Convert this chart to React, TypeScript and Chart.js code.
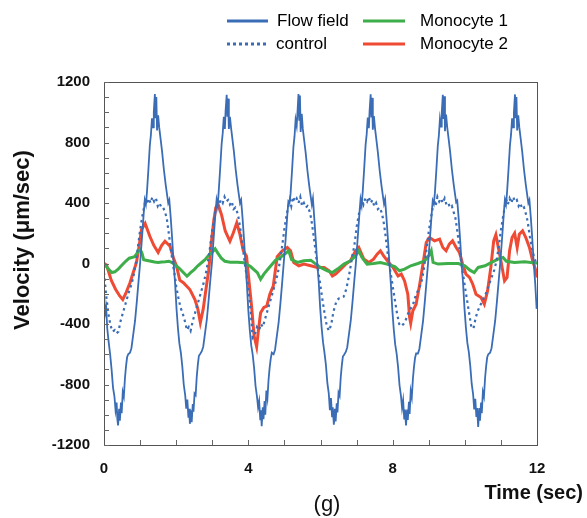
import React, { useEffect, useRef } from 'react';
import { Chart, registerables } from 'chart.js';

Chart.register(...registerables);

const FONT = '"Liberation Sans", Arial, Helvetica, sans-serif';

// Time axis (sec) tick labels and velocity ticks
const xTickValues = [0, 4, 8, 12];
const yTickValues = [-1200, -800, -400, 0, 400, 800, 1200];

// Flow field (solid blue)
const flowTime = [
  0, 0.03, 0.06, 0.09, 0.13, 0.17, 0.21, 0.25, 0.29, 0.32, 0.35, 0.37,
  0.39, 0.42, 0.44, 0.47, 0.49, 0.52, 0.55, 0.58, 0.61, 0.64,
  0.67, 0.72, 0.76, 0.81, 0.86, 0.91, 0.96, 1.0, 1.05, 1.1,
  1.13, 1.16, 1.19, 1.23, 1.27, 1.3, 1.33, 1.36, 1.38, 1.41,
  1.43, 1.45, 1.47, 1.5, 1.53, 1.57, 1.61, 1.66, 1.71, 1.75,
  1.78, 1.81, 1.85, 1.89, 1.93, 1.97, 2.01, 2.05, 2.09, 2.13,
  2.17, 2.21, 2.25, 2.28, 2.31, 2.34, 2.36,
  2.38, 2.41, 2.43, 2.46, 2.48, 2.51, 2.54, 2.57, 2.6, 2.63,
  2.66, 2.71, 2.75, 2.8, 2.85, 2.9, 2.95, 2.99, 3.04, 3.09,
  3.12, 3.15, 3.18, 3.22, 3.26, 3.29, 3.32, 3.35, 3.37, 3.4,
  3.42, 3.44, 3.46, 3.49, 3.52, 3.56, 3.6, 3.65, 3.7, 3.74,
  3.77, 3.8, 3.84, 3.88, 3.92, 3.96, 4.0, 4.04, 4.08, 4.12,
  4.16, 4.2, 4.24, 4.27, 4.3, 4.33, 4.35,
  4.37, 4.4, 4.42, 4.45, 4.47, 4.5, 4.53, 4.56, 4.59, 4.62,
  4.65, 4.7, 4.74, 4.79, 4.84, 4.89, 4.94, 4.98, 5.03, 5.08,
  5.11, 5.14, 5.17, 5.21, 5.25, 5.28, 5.31, 5.34, 5.36, 5.39,
  5.41, 5.43, 5.45, 5.48, 5.51, 5.55, 5.59, 5.64, 5.69, 5.73,
  5.76, 5.79, 5.83, 5.87, 5.91, 5.95, 5.99, 6.03, 6.07, 6.11,
  6.15, 6.19, 6.23, 6.26, 6.29, 6.32, 6.34,
  6.37, 6.4, 6.42, 6.45, 6.47, 6.5, 6.53, 6.56, 6.59, 6.62,
  6.65, 6.7, 6.74, 6.79, 6.84, 6.89, 6.94, 6.98, 7.03, 7.08,
  7.11, 7.14, 7.17, 7.21, 7.25, 7.28, 7.31, 7.34, 7.36, 7.39,
  7.41, 7.43, 7.45, 7.48, 7.51, 7.55, 7.59, 7.64, 7.69, 7.73,
  7.76, 7.79, 7.83, 7.87, 7.91, 7.95, 7.99, 8.03, 8.07, 8.11,
  8.15, 8.19, 8.23, 8.26, 8.29, 8.32, 8.34,
  8.37, 8.4, 8.42, 8.45, 8.47, 8.5, 8.53, 8.56, 8.59, 8.62,
  8.65, 8.7, 8.74, 8.79, 8.84, 8.89, 8.94, 8.98, 9.03, 9.08,
  9.11, 9.14, 9.17, 9.21, 9.25, 9.28, 9.31, 9.34, 9.36, 9.39,
  9.41, 9.43, 9.45, 9.48, 9.51, 9.55, 9.59, 9.64, 9.69, 9.73,
  9.76, 9.79, 9.83, 9.87, 9.91, 9.95, 9.99, 10.03, 10.07, 10.11,
  10.15, 10.19, 10.23, 10.26, 10.29, 10.32, 10.34,
  10.37, 10.4, 10.42, 10.45, 10.47, 10.5, 10.53, 10.56, 10.59, 10.62,
  10.65, 10.7, 10.74, 10.79, 10.84, 10.89, 10.94, 10.98, 11.03, 11.08,
  11.11, 11.14, 11.17, 11.21, 11.25, 11.28, 11.31, 11.34, 11.36, 11.39,
  11.41, 11.43, 11.45, 11.48, 11.51, 11.55, 11.59, 11.64, 11.69, 11.73,
  11.76, 11.79, 11.83, 11.87, 11.91, 11.95, 11.99,
];
const flowVel = [
  -170, -330, -290, -430, -520, -600, -700, -820, -880, -970, -920, -1030,
  -1070, -960, -1040, -920, -990, -850, -880, -760, -680, -620,
  -600, -590, -560, -470, -380, -250, -110, 0, 160, 330,
  420, 390, 470, 620, 780, 850, 960, 900, 1000, 1120,
  960, 1100, 880, 980, 900, 820, 740, 620, 520, 450,
  400, 420, 300, 160, 0, -130, -300, -430, -530, -590,
  -680, -800, -870, -960, -900, -1020, -960,
  -1060, -970, -1050, -930, -980, -860, -870, -750, -670, -610,
  -600, -580, -550, -460, -370, -240, -100, 0, 170, 340,
  420, 380, 480, 630, 790, 860, 970, 890, 1010, 1115,
  970, 1090, 890, 970, 900, 820, 740, 620, 520, 450,
  400, 420, 300, 160, 0, -140, -310, -440, -540, -600,
  -690, -810, -880, -950, -910, -1030, -970,
  -1075, -950, -1030, -910, -1000, -840, -890, -770, -690, -630,
  -590, -600, -570, -480, -390, -260, -120, 0, 150, 320,
  410, 400, 460, 610, 770, 840, 950, 910, 990, 1120,
  950, 1110, 870, 990, 890, 810, 730, 610, 510, 440,
  390, 430, 290, 150, 0, -120, -290, -420, -520, -590,
  -670, -790, -860, -970, -890, -1010, -950,
  -1065, -960, -1045, -925, -985, -855, -875, -755, -675, -615,
  -605, -585, -555, -465, -375, -245, -105, 0, 165, 335,
  425, 385, 475, 625, 785, 855, 965, 895, 1005, 1118,
  965, 1095, 885, 975, 895, 815, 735, 615, 515, 445,
  395, 425, 295, 155, 0, -135, -305, -435, -535, -595,
  -685, -805, -875, -955, -905, -1025, -965,
  -1070, -965, -1035, -915, -995, -845, -885, -765, -685, -625,
  -595, -595, -565, -475, -385, -255, -115, 0, 155, 325,
  415, 395, 465, 615, 775, 845, 955, 905, 995, 1115,
  955, 1105, 875, 985, 905, 825, 745, 625, 525, 455,
  405, 415, 295, 155, 0, -125, -295, -425, -525, -585,
  -675, -795, -865, -965, -895, -1015, -955,
  -1080, -955, -1040, -920, -990, -850, -880, -760, -680, -620,
  -600, -590, -560, -470, -380, -250, -110, 0, 160, 330,
  420, 390, 470, 620, 780, 850, 960, 900, 1000, 1118,
  960, 1100, 880, 980, 900, 820, 740, 620, 520, 450,
  400, 420, 300, 160, 0, -130, -300,
];

// Control (dotted blue)
const controlTime = [
  0, 0.06, 0.12, 0.18, 0.24, 0.3, 0.35, 0.4, 0.46, 0.52,
  0.58, 0.64, 0.7, 0.76, 0.82, 0.88, 0.94, 1.0, 1.06, 1.11,
  1.15, 1.19, 1.24, 1.29, 1.34, 1.39, 1.44, 1.49, 1.54, 1.59,
  1.64, 1.69, 1.74, 1.8, 1.86, 1.92, 1.97,
  2, 2.06, 2.12, 2.18, 2.24, 2.3, 2.35, 2.4, 2.46, 2.52,
  2.58, 2.64, 2.7, 2.76, 2.82, 2.88, 2.94, 3.0, 3.06, 3.11,
  3.15, 3.19, 3.24, 3.29, 3.34, 3.39, 3.44, 3.49, 3.54, 3.59,
  3.64, 3.69, 3.74, 3.8, 3.86, 3.92, 3.97,
  4, 4.06, 4.12, 4.18, 4.24, 4.3, 4.35, 4.4, 4.46, 4.52,
  4.58, 4.64, 4.7, 4.76, 4.82, 4.88, 4.94, 5.0, 5.06, 5.11,
  5.15, 5.19, 5.24, 5.29, 5.34, 5.39, 5.44, 5.49, 5.54, 5.59,
  5.64, 5.69, 5.74, 5.8, 5.86, 5.92, 5.97,
  6, 6.06, 6.12, 6.18, 6.24, 6.3, 6.35, 6.4, 6.46, 6.52,
  6.58, 6.64, 6.7, 6.76, 6.82, 6.88, 6.94, 7.0, 7.06, 7.11,
  7.15, 7.19, 7.24, 7.29, 7.34, 7.39, 7.44, 7.49, 7.54, 7.59,
  7.64, 7.69, 7.74, 7.8, 7.86, 7.92, 7.97,
  8, 8.06, 8.12, 8.18, 8.24, 8.3, 8.35, 8.4, 8.46, 8.52,
  8.58, 8.64, 8.7, 8.76, 8.82, 8.88, 8.94, 9.0, 9.06, 9.11,
  9.15, 9.19, 9.24, 9.29, 9.34, 9.39, 9.44, 9.49, 9.54, 9.59,
  9.64, 9.69, 9.74, 9.8, 9.86, 9.92, 9.97,
  10, 10.06, 10.12, 10.18, 10.24, 10.3, 10.35, 10.4, 10.46, 10.52,
  10.58, 10.64, 10.7, 10.76, 10.82, 10.88, 10.94, 11.0, 11.06, 11.11,
  11.15, 11.19, 11.24, 11.29, 11.34, 11.39, 11.44, 11.49, 11.54, 11.59,
  11.64, 11.69, 11.74, 11.8, 11.86, 11.92, 11.97, 12,
];
const controlVel = [
  -60, -210, -330, -410, -450, -440, -460, -450, -380, -330,
  -280, -230, -180, -140, -80, 0, 110, 220, 310, 370,
  420, 390, 430, 400, 440, 410, 430, 380, 400, 370,
  370, 340, 300, 190, 80, -20, -90,
  -150, -225, -290, -330, -380, -440, -420, -445, -380, -330,
  -280, -230, -180, -130, -70, 10, 110, 220, 310, 380,
  430, 390, 420, 400, 440, 410, 420, 390, 410, 360,
  370, 340, 290, 190, 80, -30, -110,
  -170, -300, -490, -470, -420, -440, -400, -420, -370, -320,
  -270, -220, -170, -120, -60, 20, 120, 230, 320, 380,
  420, 380, 440, 410, 430, 400, 440, 380, 400, 370,
  380, 350, 300, 200, 90, -30, -100,
  -150, -250, -340, -420, -445, -400, -330, -280, -240, -230,
  -228, -220, -180, -120, -40, 50, 120, 240, 320, 380,
  420, 390, 430, 410, 440, 400, 420, 380, 400, 360,
  370, 340, 290, 190, 70, -30, -100,
  -150, -240, -330, -400, -415, -400, -380, -350, -310, -290,
  -260, -210, -180, -150, -100, -10, 100, 210, 300, 370,
  420, 380, 440, 410, 430, 400, 430, 390, 400, 370,
  380, 340, 300, 200, 80, -30, -100,
  -150, -240, -330, -420, -430, -360, -320, -290, -260, -230,
  -200, -160, -120, -80, -40, 20, 110, 220, 310, 380,
  420, 390, 430, 400, 440, 410, 420, 380, 400, 360,
  370, 330, 280, 180, 100, 40, 10, 0,
];

// Monocyte 1 (green)
const mono1Time = [
  0, 0.1, 0.21, 0.3, 0.4, 0.5, 0.6, 0.7, 0.85, 0.95, 1.0, 1.05, 1.1, 1.2, 1.3, 1.4, 1.5,
  1.6, 1.7, 1.8, 1.9, 2.0, 2.1, 2.2, 2.3, 2.4, 2.5, 2.6, 2.7, 2.8, 2.9, 3.0, 3.08,
  3.15, 3.25, 3.35, 3.5, 3.7, 3.88, 4.06, 4.25, 4.34, 4.43, 4.57, 4.75, 4.94, 5.12,
  5.2, 5.36, 5.54, 5.73, 5.87, 6.0, 6.19, 6.33, 6.47, 6.65, 6.83, 6.97, 7.06, 7.15,
  7.29, 7.47, 7.66, 7.84, 8.06, 8.19, 8.33, 8.5, 8.7, 8.89, 9.03, 9.07, 9.12, 9.26,
  9.54, 9.82, 10.0, 10.14, 10.26, 10.37, 10.56, 10.74, 10.92, 11.06, 11.15, 11.38,
  11.66, 11.94, 12.0,
];
const mono1Vel = [
  0, -30, -60, -55, -35, -10, 15, 35, 45, 80, 92, 70, 25, 20, 15, 10, 7,
  10, 12, 15, 5, -15, -35, -60, -84, -60, -40, -15, 5, 25, 55, 75, 97,
  70, 35, 15, 8, 8, 5, -20, -60, -104, -70, -30, 20, 50, 84,
  25, 7, 18, 22, -4, -26, -48, -60, -37, -4, 18, 50, 84, 40,
  -4, 0, 7, -4, -20, -48, -37, -15, 0, 18, 62, 84, 7, -4,
  0, 0, -15, -44, -60, -26, -15, 7, 29, 40, 15, 7,
  11, 4, 4,
];

// Monocyte 2 (red)
const mono2Time = [
  0, 0.07, 0.2, 0.32, 0.44, 0.52, 0.6, 0.72, 0.81, 0.9, 0.97, 1.04, 1.14, 1.27, 1.38,
  1.5, 1.6, 1.69, 1.83, 1.92, 2.01, 2.1, 2.2, 2.38, 2.52, 2.6, 2.67, 2.75, 2.82, 2.9,
  2.97, 3.04, 3.1, 3.17, 3.26, 3.36, 3.49, 3.58, 3.68, 3.76, 3.86, 3.95, 4.02, 4.09,
  4.16, 4.23, 4.28, 4.34, 4.43, 4.51, 4.6, 4.69, 4.8, 4.94, 5.08, 5.17, 5.26, 5.4,
  5.54, 5.73, 5.91, 6.1, 6.24, 6.33, 6.42, 6.56, 6.7, 6.83, 6.97, 7.06, 7.2, 7.34,
  7.47, 7.57, 7.66, 7.75, 7.89, 8.01, 8.15, 8.24, 8.33, 8.42, 8.47, 8.5, 8.56, 8.65,
  8.75, 8.84, 8.93, 9.02, 9.16, 9.3, 9.39, 9.48, 9.57, 9.66, 9.76, 9.85, 9.94, 10.03,
  10.13, 10.22, 10.31, 10.45, 10.54, 10.63, 10.72, 10.8, 10.86, 10.91, 11.0, 11.1,
  11.17, 11.24, 11.31, 11.38, 11.45, 11.51, 11.6, 11.69, 11.79, 11.88, 11.97, 12.0,
];
const mono2Vel = [
  0, -10, -110, -170, -216, -238, -200, -127, -60, 7, 110, 225, 265, 180, 120,
  73, 120, 147, 114, 40, -18, -110, -127, -172, -238, -300, -390, -300, -180, -48,
  128, 280, 370, 385, 320, 215, 147, 200, 269, 200, 84, 48, -120, -282,
  -480, -550, -440, -326, -290, -282, -200, -150, 45, 84, 106, 84, 7, -15,
  -4, -15, -26, -26, -48, -82, -70, -37, -4, 18, 84, 106, 29, 7,
  29, 62, 84, 51, 7, -26, -82, -70, -115, -203, -357, -395, -313, -269,
  -137, -4, 139, 172, 150, 161, 106, 84, 128, 150, 106, 73, -4, -70,
  -92, -137, -203, -225, -269, -181, -26, 150, 190, 128, 18, -115,
  -92, 84, 172, 200, 106, 194, 216, 172, 106, 18, -48, -92,
];

const BLUE = '#3a6db6';
const GREEN = '#3dae4a';
const RED = '#ef4a33';

const pts = (t: number[], v: number[]) => t.map((x, i) => ({ x, y: v[i] }));

const decorPlugin = {
  id: 'decor',
  beforeDraw(chart: any) {
    const ctx = chart.ctx;
    ctx.save();
    ctx.fillStyle = '#ffffff';
    ctx.fillRect(0, 0, chart.width, chart.height);
    ctx.restore();
  },
  afterDraw(chart: any) {
    const ctx = chart.ctx;
    const { left, right, top, bottom } = chart.chartArea;
    const xs = chart.scales.x;
    const ys = chart.scales.y;
    ctx.save();
    // frame
    ctx.strokeStyle = '#555';
    ctx.lineWidth = 1;
    ctx.strokeRect(Math.round(left) + 0.5, Math.round(top) + 0.5, Math.round(right - left), Math.round(bottom - top));
    // inward ticks
    ctx.strokeStyle = '#666';
    ctx.beginPath();
    for (let v = -1200; v <= 1200; v += 100) {
      const py = Math.round(ys.getPixelForValue(v)) + 0.5;
      ctx.moveTo(left, py);
      ctx.lineTo(left + 5, py);
    }
    for (let t = 1; t < 12; t += 1) {
      const px = Math.round(xs.getPixelForValue(t)) + 0.5;
      ctx.moveTo(px, bottom);
      ctx.lineTo(px, bottom - 5);
    }
    ctx.stroke();

    // legend
    const drawKey = (x1: number, x2: number, y: number, color: string, dash: number[], w: number) => {
      ctx.save();
      ctx.strokeStyle = color;
      ctx.lineWidth = w;
      ctx.setLineDash(dash);
      ctx.beginPath();
      ctx.moveTo(x1, y);
      ctx.lineTo(x2, y);
      ctx.stroke();
      ctx.restore();
    };
    drawKey(227, 268, 21, BLUE, [], 3);
    drawKey(227, 268, 44, BLUE, [3, 3], 3);
    drawKey(363, 405, 21, GREEN, [], 3);
    drawKey(363, 405, 44, RED, [], 3);
    ctx.fillStyle = '#000';
    ctx.font = `17px ${FONT}`;
    ctx.textBaseline = 'middle';
    ctx.textAlign = 'left';
    ctx.fillText('Flow field', 277, 21);
    ctx.fillText('control', 276, 44);
    ctx.fillText('Monocyte 1', 420, 21);
    ctx.fillText('Monocyte 2', 420, 44);

    // axis titles
    ctx.fillStyle = '#111';
    ctx.font = `bold 20px ${FONT}`;
    ctx.textAlign = 'right';
    ctx.fillText('Time (sec)', 583, 493);
    ctx.font = `22px ${FONT}`;
    ctx.textAlign = 'center';
    ctx.fillText('(g)', 327, 505);
    ctx.save();
    ctx.translate(23, 240);
    ctx.rotate(-Math.PI / 2);
    ctx.font = `bold 22px ${FONT}`;
    ctx.textAlign = 'center';
    ctx.fillText('Velocity (\u03bcm/sec)', 0, 0);
    ctx.restore();
    ctx.restore();
  },
};

export default function App() {
  const ref = useRef<HTMLCanvasElement>(null);
  useEffect(() => {
    if (!ref.current) return;
    const chart = new Chart(ref.current, {
      type: 'line',
      data: {
        datasets: [
          { label: 'Flow field', data: pts(flowTime, flowVel), borderColor: BLUE, borderWidth: 1.8, pointRadius: 0, tension: 0 },
          { label: 'control', data: pts(controlTime, controlVel), borderColor: BLUE, borderWidth: 2.2, borderDash: [2.5, 3.5], pointRadius: 0, tension: 0 },
          { label: 'Monocyte 1', data: pts(mono1Time, mono1Vel), borderColor: GREEN, borderWidth: 3, pointRadius: 0, tension: 0 },
          { label: 'Monocyte 2', data: pts(mono2Time, mono2Vel), borderColor: RED, borderWidth: 3, pointRadius: 0, tension: 0 },
        ],
      },
      options: {
        responsive: false,
        animation: false,
        devicePixelRatio: 1,
        layout: { padding: { left: 0, right: 50, top: 82, bottom: 0 } },
        plugins: { legend: { display: false }, tooltip: { enabled: false } },
        scales: {
          x: {
            type: 'linear',
            min: 0,
            max: 12,
            afterBuildTicks: (s: any) => { s.ticks = xTickValues.map((v) => ({ value: v })); },
            afterFit: (s: any) => { s.height = 73; },
            grid: { display: false, drawTicks: false },
            border: { display: false },
            ticks: { padding: 15, color: '#111', font: { family: FONT, size: 15, weight: 'bold' }, callback: (v: any) => String(v), maxRotation: 0, autoSkip: false },
          },
          y: {
            type: 'linear',
            min: -1200,
            max: 1200,
            afterBuildTicks: (s: any) => { s.ticks = yTickValues.map((v) => ({ value: v })); },
            afterFit: (s: any) => { s.width = 104; },
            grid: { display: false, drawTicks: false },
            border: { display: false },
            ticks: { padding: 14, color: '#111', font: { family: FONT, size: 15, weight: 'bold' }, callback: (v: any) => String(v), autoSkip: false },
          },
        },
      } as any,
      plugins: [decorPlugin],
    });
    return () => chart.destroy();
  }, []);
  return (
    <div style={{ position: 'absolute', left: 0, top: 0, width: 587, height: 518, background: '#fff' }}>
      <canvas ref={ref} width={587} height={518} style={{ display: 'block' }} />
    </div>
  );
}
